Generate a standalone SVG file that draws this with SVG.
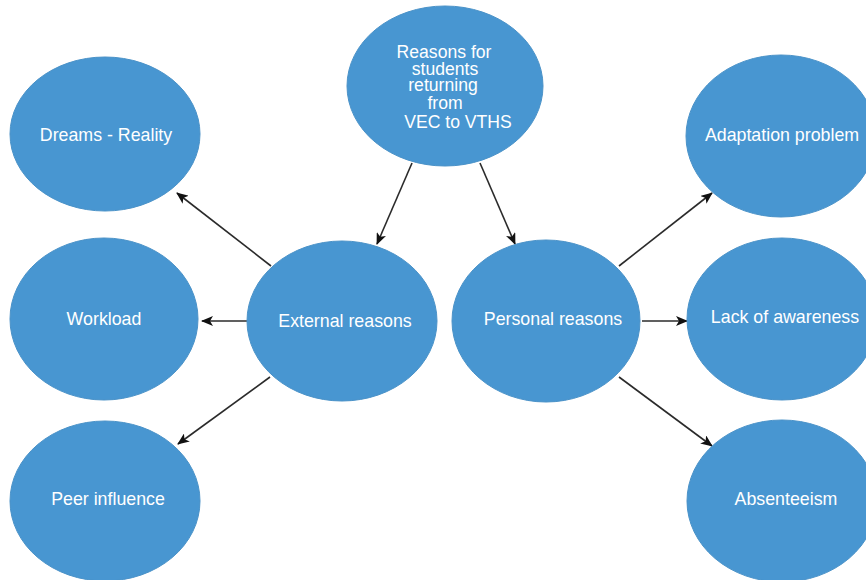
<svg xmlns="http://www.w3.org/2000/svg" width="866" height="580" viewBox="0 0 866 580">
<defs>
<style>
.node{fill:#4896d1;stroke:#4a92c8;stroke-width:1}
.lbl{fill:#ffffff;font-family:"Liberation Sans",Arial,sans-serif;font-size:17.8px;text-anchor:middle}
.top{font-size:17.6px}
.edge{stroke:#2b2b2b;stroke-width:1.6;fill:none;marker-end:url(#ah)}
</style>
<marker id="ah" viewBox="0 0 12 10" refX="11" refY="5" markerWidth="12" markerHeight="10" markerUnits="userSpaceOnUse" orient="auto">
<path d="M0,0 L12,5 L0,10 L3,5 Z" fill="#111"/>
</marker>
</defs>
<rect width="866" height="580" fill="#ffffff"/>
<g id="connectors">
<line class="edge" x1="412" y1="163" x2="377" y2="244"/>
<line class="edge" x1="480" y1="163" x2="515" y2="244"/>
<line class="edge" x1="271" y1="266" x2="177" y2="193"/>
<line class="edge" x1="247" y1="321" x2="202" y2="321"/>
<line class="edge" x1="270" y1="377" x2="178" y2="444"/>
<line class="edge" x1="619" y1="266" x2="712" y2="193"/>
<line class="edge" x1="642" y1="321" x2="687" y2="321"/>
<line class="edge" x1="619" y1="377" x2="712" y2="446"/>
</g>
<g id="n-root">
<ellipse class="node" cx="445" cy="86" rx="98" ry="80"/>
<text class="lbl top" x="444" y="58">Reasons for</text>
<text class="lbl top" x="445" y="75">students</text>
<text class="lbl top" x="443" y="91">returning</text>
<text class="lbl top" x="445" y="109">from</text>
<text class="lbl top" x="458" y="128">VEC to VTHS</text>
</g>
<g id="n-dreams">
<ellipse class="node" cx="105" cy="134" rx="95" ry="77"/>
<text class="lbl" x="106" y="141">Dreams - Reality</text>
</g>
<g id="n-workload">
<ellipse class="node" cx="104" cy="319" rx="94" ry="81"/>
<text class="lbl" x="104" y="325">Workload</text>
</g>
<g id="n-peer">
<ellipse class="node" cx="105" cy="501" rx="95" ry="80"/>
<text class="lbl" x="108" y="505">Peer influence</text>
</g>
<g id="n-external">
<ellipse class="node" cx="342" cy="321" rx="95" ry="80"/>
<text class="lbl" x="345" y="327">External reasons</text>
</g>
<g id="n-personal">
<ellipse class="node" cx="546" cy="321" rx="94" ry="81"/>
<text class="lbl" x="553" y="325">Personal reasons</text>
</g>
<g id="n-adapt">
<ellipse class="node" cx="781" cy="136" rx="95" ry="81"/>
<text class="lbl" x="782" y="141">Adaptation problem</text>
</g>
<g id="n-lack">
<ellipse class="node" cx="782" cy="319" rx="95" ry="81"/>
<text class="lbl" x="785" y="323">Lack of awareness</text>
</g>
<g id="n-absent">
<ellipse class="node" cx="782" cy="501" rx="95" ry="81"/>
<text class="lbl" x="786" y="505">Absenteeism</text>
</g>
</svg>
